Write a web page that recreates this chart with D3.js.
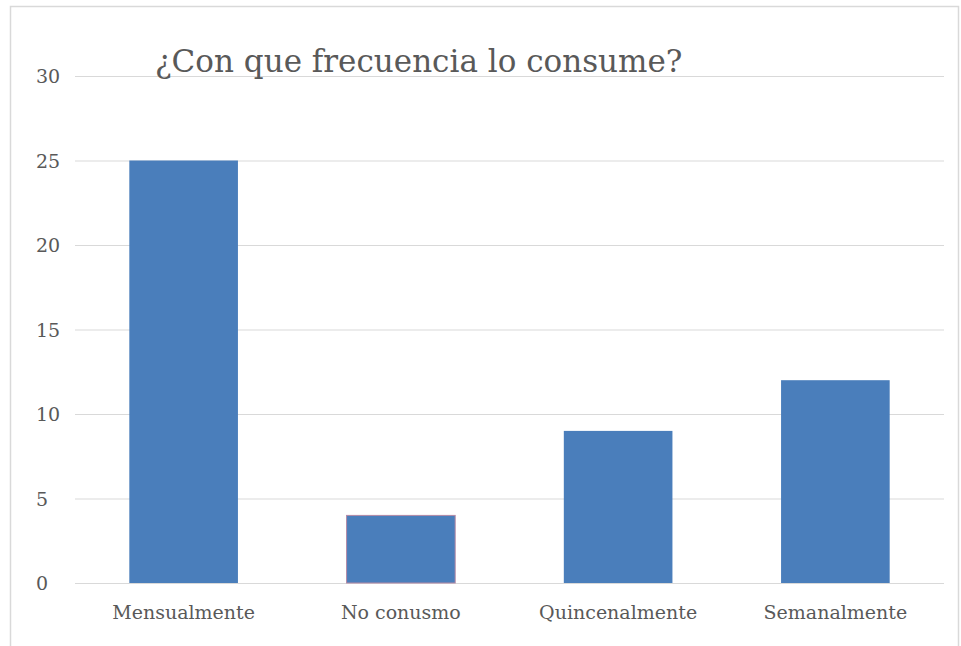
<!DOCTYPE html>
<html>
<head>
<meta charset="utf-8">
<script src="https://cdn.jsdelivr.net/npm/d3@7"></script>
<style>
  body { margin: 0; background: #fff; }
</style>
</head>
<body>
<div id="chart"></div>
<script>
// data
var categories = ["Mensualmente", "No conusmo", "Quincenalmente", "Semanalmente"];
var values = [25, 4, 9, 12];
var yTicks = [0, 5, 10, 15, 20, 25, 30];
var title = "¿Con que frecuencia lo consume?";

var W = 961, H = 646;
var margin = {top: 76, right: 17, bottom: 63, left: 75},
    width = W - margin.left - margin.right,
    height = H - margin.top - margin.bottom;

var svg = d3.select("#chart")
  .append("svg")
    .attr("width", W)
    .attr("height", H);

// outer frame
svg.append("path")
  .attr("d", "M10.5,646 V6.5 H958.5 V646")
  .style("fill", "none")
  .style("stroke", "#d9d9d9")
  .style("stroke-width", 1.5);

var g = svg.append("g")
  .attr("transform", "translate(" + margin.left + "," + margin.top + ")");

var x = d3.scaleBand()
  .domain(categories)
  .range([0, width])
  .paddingInner(0.5)
  .paddingOuter(0.25);

var y = d3.scaleLinear()
  .domain([0, 30])
  .range([height, 0]);

// gridlines
g.append("g")
  .selectAll("line")
  .data(yTicks)
  .enter()
  .append("line")
    .attr("x1", 0)
    .attr("x2", width)
    .attr("y1", function(d) { return y(d) + 0.5; })
    .attr("y2", function(d) { return y(d) + 0.5; })
    .style("stroke", "#d9d9d9")
    .style("stroke-width", 1.2);

// y tick labels
g.append("g")
  .selectAll("text")
  .data(yTicks)
  .enter()
  .append("text")
    .attr("x", 36 - margin.left)
    .attr("y", function(d) { return y(d) + 7; })
    .text(function(d) { return d; })
    .style("font-family", "'DejaVu Serif', serif")
    .style("font-size", "19px")
    .style("fill", "#595959");

// bars
g.append("g")
  .selectAll("rect")
  .data(values)
  .enter()
  .append("rect")
    .attr("x", function(d, i) { return x(categories[i]); })
    .attr("y", function(d) { return y(d); })
    .attr("width", x.bandwidth())
    .attr("height", function(d) { return height - y(d); })
    .style("fill", "#4a7ebb")
    .style("stroke", function(d, i) { return i === 1 ? "#b58aa5" : "none"; })
    .style("stroke-width", 1);

// category labels
g.append("g")
  .selectAll("text")
  .data(categories)
  .enter()
  .append("text")
    .attr("x", function(d) { return x(d) + x.bandwidth() / 2; })
    .attr("y", height + 36)
    .attr("text-anchor", "middle")
    .text(function(d) { return d; })
    .style("font-family", "'DejaVu Serif', serif")
    .style("font-size", "19px")
    .style("fill", "#595959");

// title
svg.append("text")
  .attr("x", 155)
  .attr("y", 72)
  .text(title)
  .style("font-family", "'DejaVu Serif', serif")
  .style("font-size", "31px")
  .style("fill", "#595959");
</script>
</body>
</html>
